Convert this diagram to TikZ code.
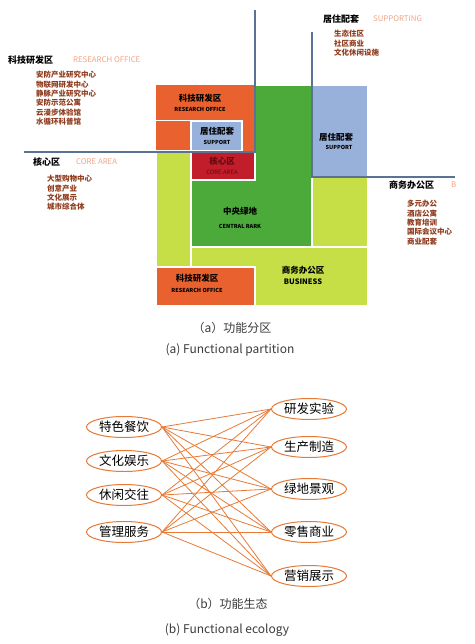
\documentclass[tikz,border=0pt]{standalone}
\usepackage{fontspec}
\setmainfont{Noto Sans CJK SC}
\usetikzlibrary{shapes.geometric}
\definecolor{cRO}{HTML}{E8612F}
\definecolor{cSU}{HTML}{98B1DA}
\definecolor{cCO}{HTML}{C21D2A}
\definecolor{cGD}{HTML}{4CAA3B}
\definecolor{cGL}{HTML}{C7DF47}
\definecolor{cLN}{HTML}{5B7294}
\definecolor{cBR}{HTML}{8E3A1C}
\definecolor{cSA}{HTML}{F2A384}
\definecolor{cOR}{HTML}{E67A36}
\definecolor{cCAP}{HTML}{3A3A3A}
\definecolor{cCT}{HTML}{5E0A10}
\begin{document}
\begin{tikzpicture}[x=1pt,y=-1pt,
  blk/.style={draw=white,line width=1.2pt},
  guide/.style={draw=cLN,line width=1.1pt},
  head/.style={anchor=west,inner sep=0pt,font=\fontsize{9}{10}\selectfont\bfseries},
  eng/.style={anchor=west,inner sep=0pt,text=cSA,font=\fontsize{7.8}{9}\selectfont},
  lst/.style={anchor=north west,inner sep=0pt,align=left,text=cBR,font=\fontsize{7.5}{9.4}\selectfont\bfseries},
  bcn/.style={inner sep=0pt,font=\fontsize{8.5}{10}\selectfont\bfseries},
  ben/.style={inner sep=0pt,font=\fontsize{5.5}{7}\selectfont\bfseries},
  eco/.style={ellipse,draw=cOR,line width=1pt,minimum width=75pt,minimum height=21pt,inner sep=0pt,font=\fontsize{12.5}{14}\selectfont},
  link/.style={draw=cOR,line width=0.8pt},
  captxt/.style={inner sep=0pt,text=cCAP,font=\fontsize{12}{14}\selectfont}]
\useasboundingbox (0,0) rectangle (474,644);
% ---------- blocks ----------
\fill[cRO] (156,85) rectangle (255,151);
\draw[white,line width=1pt] (156,121) -- (191,121);
\filldraw[fill=cGD,blk] (255,85) -- (312,85) -- (312,247) -- (191,247) -- (191,152) -- (255,152) -- cycle;
\filldraw[fill=cSU,blk] (191,121) rectangle (242,151);
\filldraw[fill=cCO,blk] (191,152) rectangle (255,180);
\filldraw[fill=cGL,blk] (156,151) rectangle (191,267);
\filldraw[fill=cSU,blk] (312,85) rectangle (368,177);
\filldraw[fill=cGL,blk] (312,177) rectangle (368,247);
\filldraw[fill=cGL,blk] (191,247) rectangle (368,306);
\filldraw[fill=cRO,blk] (156,267) rectangle (255,306);
% block labels
\node[bcn] (roT) at (200,98) {科技研发区};
\node[ben] (roTe) at (200,109) {RESEARCH OFFICE};
\node[bcn] (suS) at (217,131) {居住配套};
\node[ben] (suSe) at (217,142) {SUPPORT};
\node[bcn,text=cCT] (coA) at (222,161) {核心区};
\node[ben,font=\fontsize{6}{7}\selectfont,text=cCT] (coAe) at (222,172) {CORE AREA};
\node[bcn] (cpA) at (240,211) {中央绿地};
\node[ben] (cpAe) at (240,226) {CENTRAL RARK};
\node[bcn] (suR) at (336,137) {居住配套};
\node[ben] (suRe) at (339,147) {SUPPORT};
\node[bcn] (buA) at (303,270) {商务办公区};
\node[ben,font=\fontsize{7.5}{9}\selectfont\bfseries] (buAe) at (303,282) {BUSINESS};
\node[bcn] (roB) at (197,278) {科技研发区};
\node[ben] (roBe) at (197,290) {RESEARCH OFFICE};
% ---------- guide lines ----------
\coordinate (v1t) at (255,10);
\coordinate (v1b) at (255,152);
\coordinate (h1l) at (24,152);
\coordinate (v2t) at (312,32);
\coordinate (v2b) at (312,177);
\coordinate (h2r) at (455,177);
\draw[guide] (v1t) -- (v1b) -- (h1l);
\draw[guide] (v2t) -- (v2b) -- (h2r);
% ---------- annotations ----------
\node[head] (hRO) at (8,60) {科技研发区};
\node[eng] (eRO) at (73,60) {RESEARCH OFFICE};
\node[lst] (lRO) at (36,71) {安防产业研究中心\\物联网研发中心\\静脉产业研究中心\\安防示范公寓\\云漫步体验馆\\水循环科普馆};
\node[head] (hCO) at (33,162) {核心区};
\node[eng] (eCO) at (76,162) {CORE AREA};
\node[lst] (lCO) at (47,175) {大型购物中心\\创意产业\\文化展示\\城市综合体};
\node[head] (hSU) at (323,19) {居住配套};
\node[eng] (eSU) at (373,19) {SUPPORTING};
\node[lst] (lSU) at (334,30) {生态住区\\社区商业\\文化休闲设施};
\node[head] (hBU) at (389,185) {商务办公区};
\node[eng] (eBU) at (451,185) {B};
\node[lst] (lBU) at (407,200) {多元办公\\酒店公寓\\教育培训\\国际会议中心\\商业配套};
% captions a
\node[captxt] (capA1) at (232,328) {（a）功能分区};
\node[captxt] (capA2) at (230,350) {(a) Functional partition};
% ---------- ecology ----------
\node[eco] (L1) at (124,427) {特色餐饮};
\node[eco] (L2) at (124,461) {文化娱乐};
\node[eco] (L3) at (124,495) {休闲交往};
\node[eco] (L4) at (124,532) {管理服务};
\node[eco] (R1) at (309,409) {研发实验};
\node[eco] (R2) at (309,447) {生产制造};
\node[eco] (R3) at (309,489) {绿地景观};
\node[eco] (R4) at (309,532) {零售商业};
\node[eco] (R5) at (309,576) {营销展示};
\foreach \l in {L1,L2,L3,L4}{
  \foreach \r in {R1,R2,R3,R4,R5}{
    \draw[link] (\l.east) -- (\r.west);
  }
}
\node[captxt] (capB1) at (228,604) {（b）功能生态};
\node[captxt] (capB2) at (227,630) {(b) Functional ecology};
\end{tikzpicture}
\end{document}
